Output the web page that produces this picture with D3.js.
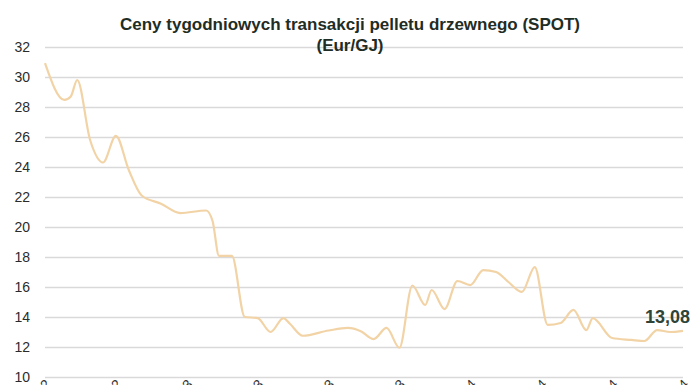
<!DOCTYPE html>
<html lang="pl">
<head>
<meta charset="UTF-8">
<script src="https://d3js.org/d3.v7.min.js"></script>
<style>
  body { margin: 0; background: #fff; }
  svg { display: block; font-family: "Liberation Sans", Arial, sans-serif; }
</style>
</head>
<body>
<div id="chart"></div>
<script>
// week number since start, and the SPOT price (Eur/GJ)
var weeks = [0, 3, 4, 5, 7, 9, 11, 13, 15, 18, 21, 25, 26, 27, 29, 31, 33, 35, 37, 38, 40, 44, 47, 49, 51, 53, 55, 57, 59, 60, 62, 64, 66, 68, 70, 72, 74, 76, 78, 80, 82, 84, 85, 88, 91, 93, 95, 97, 99];
var prices = [30.93, 28.47, 28.7, 29.8, 25.8, 24.3, 26.07, 23.8, 22.1, 21.55, 20.93, 21.1, 20.4, 18.07, 18.07, 14.0, 13.93, 13.0, 13.93, 13.55, 12.75, 13.1, 13.27, 13.05, 12.53, 13.27, 11.95, 16.1, 14.8, 15.8, 14.53, 16.4, 16.13, 17.13, 17.0, 16.3, 15.67, 17.33, 13.47, 13.6, 14.47, 13.13, 13.93, 12.6, 12.47, 12.4, 13.13, 13.0, 13.08];

var tickWeeks = [0, 11, 22, 33, 44, 55, 66, 77, 88, 99];
var tickLabels = ["07.10.2022", "23.12.2022", "10.03.2023", "26.05.2023", "11.08.2023", "27.10.2023", "12.01.2024", "29.03.2024", "14.06.2024", "30.08.2024"];
var yTicks = [10, 12, 14, 16, 18, 20, 22, 24, 26, 28, 30, 32];
var lastLabel = "13,08";

var W = 696, H = 385;
var margin = { top: 47, right: 13, bottom: 8, left: 45 };
var width = W - margin.left - margin.right,
    height = H - margin.top - margin.bottom;

var svg = d3.select("#chart").append("svg")
    .attr("width", W)
    .attr("height", H);

var g = svg.append("g")
    .attr("transform", "translate(" + margin.left + "," + margin.top + ")");

var x = d3.scaleLinear().domain([0, 99]).range([0, width]);
var y = d3.scaleLinear().domain([10, 32]).range([height, 0]);

// grid + y labels
var yAxis = g.append("g")
    .call(d3.axisLeft(y).tickValues(yTicks).tickSize(-width).tickPadding(15).tickFormat(d3.format("d")));
yAxis.select(".domain").remove();
yAxis.selectAll("line").attr("stroke", "#d9d9d9").attr("stroke-width", 1.5);
yAxis.selectAll("text").attr("font-size", 14).attr("fill", "#2b2b2b").attr("font-family", "Liberation Sans, Arial, sans-serif");

// x labels (rotated, mostly below the visible area)
var xAxis = g.append("g")
    .attr("transform", "translate(0," + height + ")")
    .call(d3.axisBottom(x).tickValues(tickWeeks).tickSize(0).tickFormat(function (d, i) { return tickLabels[i]; }));
xAxis.select(".domain").remove();
xAxis.selectAll("text")
    .attr("font-size", 14).attr("fill", "#333").attr("font-family", "Liberation Sans, Arial, sans-serif")
    .attr("text-anchor", "end")
    .attr("dy", "0")
    .attr("transform", "translate(4,6) rotate(-45)");

var line = d3.line()
    .x(function (d, i) { return x(weeks[i]); })
    .y(function (d) { return y(d); })
    .curve(d3.curveMonotoneX);

g.append("path")
    .datum(prices)
    .attr("fill", "none")
    .attr("stroke", "#f2d3a6")
    .attr("stroke-width", 2.2)
    .attr("d", line);

g.append("text")
    .attr("x", x(weeks[weeks.length - 1]) + 7)
    .attr("y", y(prices[prices.length - 1]) - 8)
    .attr("text-anchor", "end")
    .attr("font-size", 18).attr("font-weight", "bold")
    .attr("fill", "#2f4438")
    .text(lastLabel);

svg.append("text")
    .attr("x", 350).attr("y", 30)
    .attr("text-anchor", "middle")
    .attr("font-size", 17).attr("font-weight", "bold")
    .attr("fill", "#1f2d25")
    .text("Ceny tygodniowych transakcji pelletu drzewnego (SPOT)");
svg.append("text")
    .attr("x", 350).attr("y", 51)
    .attr("text-anchor", "middle")
    .attr("font-size", 17).attr("font-weight", "bold")
    .attr("fill", "#1f2d25")
    .text("(Eur/GJ)");
</script>
</body>
</html>
